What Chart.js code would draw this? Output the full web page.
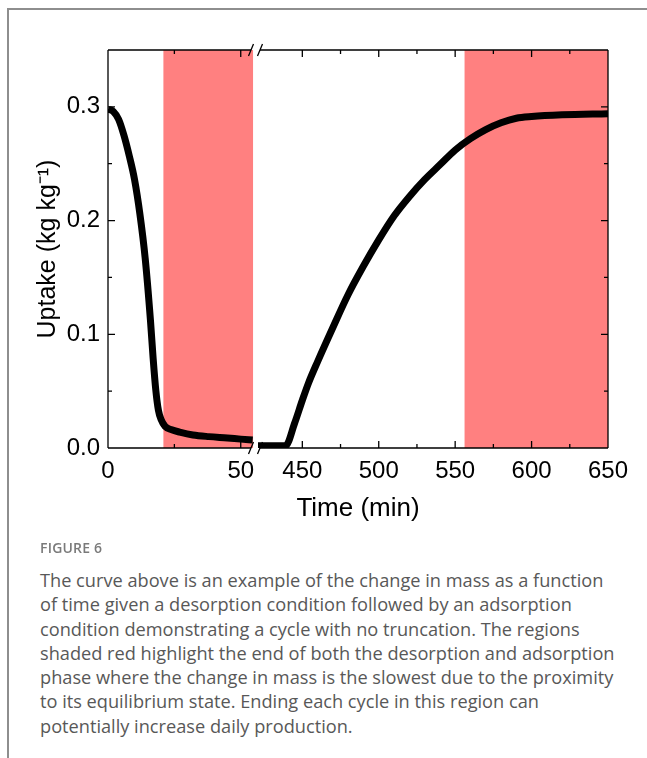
<!DOCTYPE html>
<html>
<head>
<meta charset="utf-8">
<script src="https://cdn.jsdelivr.net/npm/chart.js@4.4.1/dist/chart.umd.min.js"></script>
<style>
  body { margin: 0; background: #fff; }
  #page { position: relative; width: 647px; height: 758px; overflow: hidden; background: #fff; }
  #frame { position: absolute; left: 7px; top: 8px; width: 645px; height: 760px;
           border-left: 2px solid #8e8e8e; border-top: 2px solid #8e8e8e; }
  #chartBox { position: absolute; left: 0; top: 0; width: 647px; height: 540px; }
  #figLabel { position: absolute; left: 40px; top: 538px; font: 600 14px "Open Sans", sans-serif;
              color: #7a7a7a; letter-spacing: 0.2px; line-height: 20px; }
  #figText { position: absolute; left: 40px; top: 568px; font: 18.2px "Open Sans", sans-serif;
             color: #585858; line-height: 24.3px; white-space: nowrap; }
</style>
</head>
<body>
<div id="page">
  <div id="frame"></div>
  <div id="chartBox"><canvas id="uptakeChart"></canvas></div>
  <div id="figLabel">FIGURE 6</div>
  <div id="figText">The curve above is an example of the change in mass as a function<br>of time given a desorption condition followed by an adsorption<br>condition demonstrating a cycle with no truncation. The regions<br>shaded red highlight the end of both the desorption and adsorption<br>phase where the change in mass is the slowest due to the proximity<br>to its equilibrium state. Ending each cycle in this region can<br>potentially increase daily production.</div>
</div>
<script>
// desorption part (left of the axis break)
const desorbTime = [0, 2, 4, 6, 8, 10, 12, 14, 16, 17, 18, 19, 20, 21.5, 24, 27, 32, 38, 45, 50, 54.5];
const desorbUptake = [0.298, 0.296, 0.289, 0.275, 0.257, 0.236, 0.206, 0.167, 0.112, 0.079, 0.051, 0.033, 0.025, 0.019, 0.016, 0.014, 0.0115, 0.010, 0.0088, 0.0078, 0.007];

// adsorption part (right of the axis break)
const adsorbTime = [421, 439, 445, 450, 454, 460, 470, 480, 490, 500, 510, 520, 530, 540, 550, 560, 570, 580, 590, 600, 620, 650];
const adsorbUptake = [0.002, 0.002, 0.022, 0.042, 0.057, 0.076, 0.106, 0.135, 0.160, 0.183, 0.204, 0.221, 0.236, 0.249, 0.262, 0.272, 0.280, 0.286, 0.290, 0.2915, 0.293, 0.294];

// red shaded ranges (min)
const desorbShade = [20.8, 54.7];
const adsorbShade = [556, 650];

// axis ranges and ticks
const leftRange = [0, 56.5];
const rightRange = [421, 650];
const leftTicks = [0, 25, 50];
const rightTicks = [450, 475, 500, 525, 550, 575, 600, 625, 650];
const yRange = [0, 0.35];
const yTicks = [0, 0.05, 0.1, 0.15, 0.2, 0.25, 0.3];

const toPoints = (xs, ys) => xs.map((x, i) => ({x: x, y: ys[i]}));
const shadePoints = (r) => r.map(x => ({x: x, y: yRange[1]}));

const isMajorX = v => v % 50 === 0;
const isMajorY = v => Math.abs(Math.round(v * 10) - v * 10) < 1e-6;

const shadeColor = 'rgb(255,128,128)';

// inward tick marks, frame and break marks
const framePlugin = {
    id: 'frameTicks',
    afterDatasetsDraw(chart) {
        const ctx = chart.ctx;
        const area = chart.chartArea;
        const xl = chart.scales.x;
        const xr = chart.scales.x2;
        const y = chart.scales.y;
        const brk = xl.right - 2.5;

        ctx.save();
        ctx.strokeStyle = '#000';
        ctx.lineWidth = 1.3;
        ctx.beginPath();
        // left / right sides
        ctx.moveTo(area.left, area.top); ctx.lineTo(area.left, area.bottom);
        ctx.moveTo(area.right, area.top); ctx.lineTo(area.right, area.bottom);
        // top and bottom with a gap at the break
        [area.top, area.bottom].forEach(yy => {
            ctx.moveTo(area.left, yy); ctx.lineTo(brk - 4.5, yy);
            ctx.moveTo(brk + 4.5, yy); ctx.lineTo(area.right, yy);
        });

        [[xl, leftTicks], [xr, rightTicks]].forEach(([sc, ticks]) => {
            ticks.forEach(v => {
                const px = sc.getPixelForValue(v);
                const len = isMajorX(v) ? 7 : 4;
                ctx.moveTo(px, area.bottom); ctx.lineTo(px, area.bottom - len);
                ctx.moveTo(px, area.top); ctx.lineTo(px, area.top + len);
            });
        });
        yTicks.forEach(v => {
            const py = y.getPixelForValue(v);
            const len = isMajorY(v) ? 7 : 4;
            ctx.moveTo(area.left, py); ctx.lineTo(area.left + len, py);
            ctx.moveTo(area.right, py); ctx.lineTo(area.right - len, py);
        });
        ctx.stroke();

        // "//" break marks
        ctx.beginPath();
        [area.top, area.bottom].forEach(yy => {
            [-4.5, 4.5].forEach(dx => {
                const cx = brk + dx;
                ctx.moveTo(cx - 2.5, yy + 6);
                ctx.lineTo(cx + 2.5, yy - 6);
            });
        });
        ctx.stroke();
        ctx.restore();
    }
};

const tickFont = {family: '"Liberation Sans", Arial, sans-serif', size: 24};

function xScale(range, ticks, weight) {
    return {
        type: 'linear',
        position: 'bottom',
        stack: 'time',
        stackWeight: weight,
        min: range[0],
        max: range[1],
        grid: {display: false, drawTicks: false},
        border: {display: false},
        afterBuildTicks: sc => { sc.ticks = ticks.map(v => ({value: v})); },
        afterFit: sc => { sc.height = 40; },
        ticks: {
            autoSkip: false,
            maxRotation: 0,
            padding: 9,
            color: '#000',
            font: tickFont,
            callback: v => isMajorX(v) ? String(v) : ''
        }
    };
}

new Chart(document.getElementById('uptakeChart'), {
    type: 'line',
    data: {
        datasets: [
            {
                data: toPoints(desorbTime, desorbUptake),
                xAxisID: 'x',
                borderColor: '#000',
                borderWidth: 7,
                borderJoinStyle: 'round',
                pointRadius: 0,
                cubicInterpolationMode: 'monotone',
                fill: false,
                order: 1
            },
            {
                data: toPoints(adsorbTime, adsorbUptake),
                xAxisID: 'x2',
                borderColor: '#000',
                borderWidth: 7,
                borderJoinStyle: 'round',
                pointRadius: 0,
                cubicInterpolationMode: 'monotone',
                fill: false,
                order: 1
            },
            {
                data: shadePoints(desorbShade),
                xAxisID: 'x',
                borderWidth: 0,
                pointRadius: 0,
                backgroundColor: shadeColor,
                fill: 'start',
                order: 2
            },
            {
                data: shadePoints(adsorbShade),
                xAxisID: 'x2',
                borderWidth: 0,
                pointRadius: 0,
                backgroundColor: shadeColor,
                fill: 'start',
                order: 2
            }
        ]
    },
    options: {
        responsive: true,
        maintainAspectRatio: false,
        animation: false,
        layout: {padding: {left: 0, right: 39, top: 50, bottom: 15.8}},
        plugins: {
            legend: {display: false},
            tooltip: {enabled: false},
            title: {
                display: true,
                position: 'bottom',
                fullSize: false,
                text: 'Time (min)',
                color: '#000',
                font: {family: '"Liberation Sans", Arial, sans-serif', size: 26, weight: 'normal', lineHeight: 1.2},
                padding: {top: 5, bottom: 0}
            }
        },
        scales: {
            x: xScale(leftRange, leftTicks, 150),
            x2: xScale(rightRange, rightTicks, 350),
            y: {
                type: 'linear',
                position: 'left',
                min: yRange[0],
                max: yRange[1],
                grid: {display: false, drawTicks: false},
                border: {display: false},
                afterBuildTicks: sc => { sc.ticks = yTicks.map(v => ({value: v})); },
                afterFit: sc => { sc.width = 108; },
                ticks: {
                    autoSkip: false,
                    padding: 8,
                    color: '#000',
                    font: tickFont,
                    callback: v => isMajorY(v) ? v.toFixed(1) : ''
                },
                title: {
                    display: true,
                    text: 'Uptake (kg kg⁻¹)',
                    color: '#000',
                    font: {family: '"Liberation Sans", Arial, sans-serif', size: 25, lineHeight: 1.2},
                    padding: {top: 33, bottom: 0}
                }
            }
        }
    },
    plugins: [framePlugin]
});
</script>
</body>
</html>
